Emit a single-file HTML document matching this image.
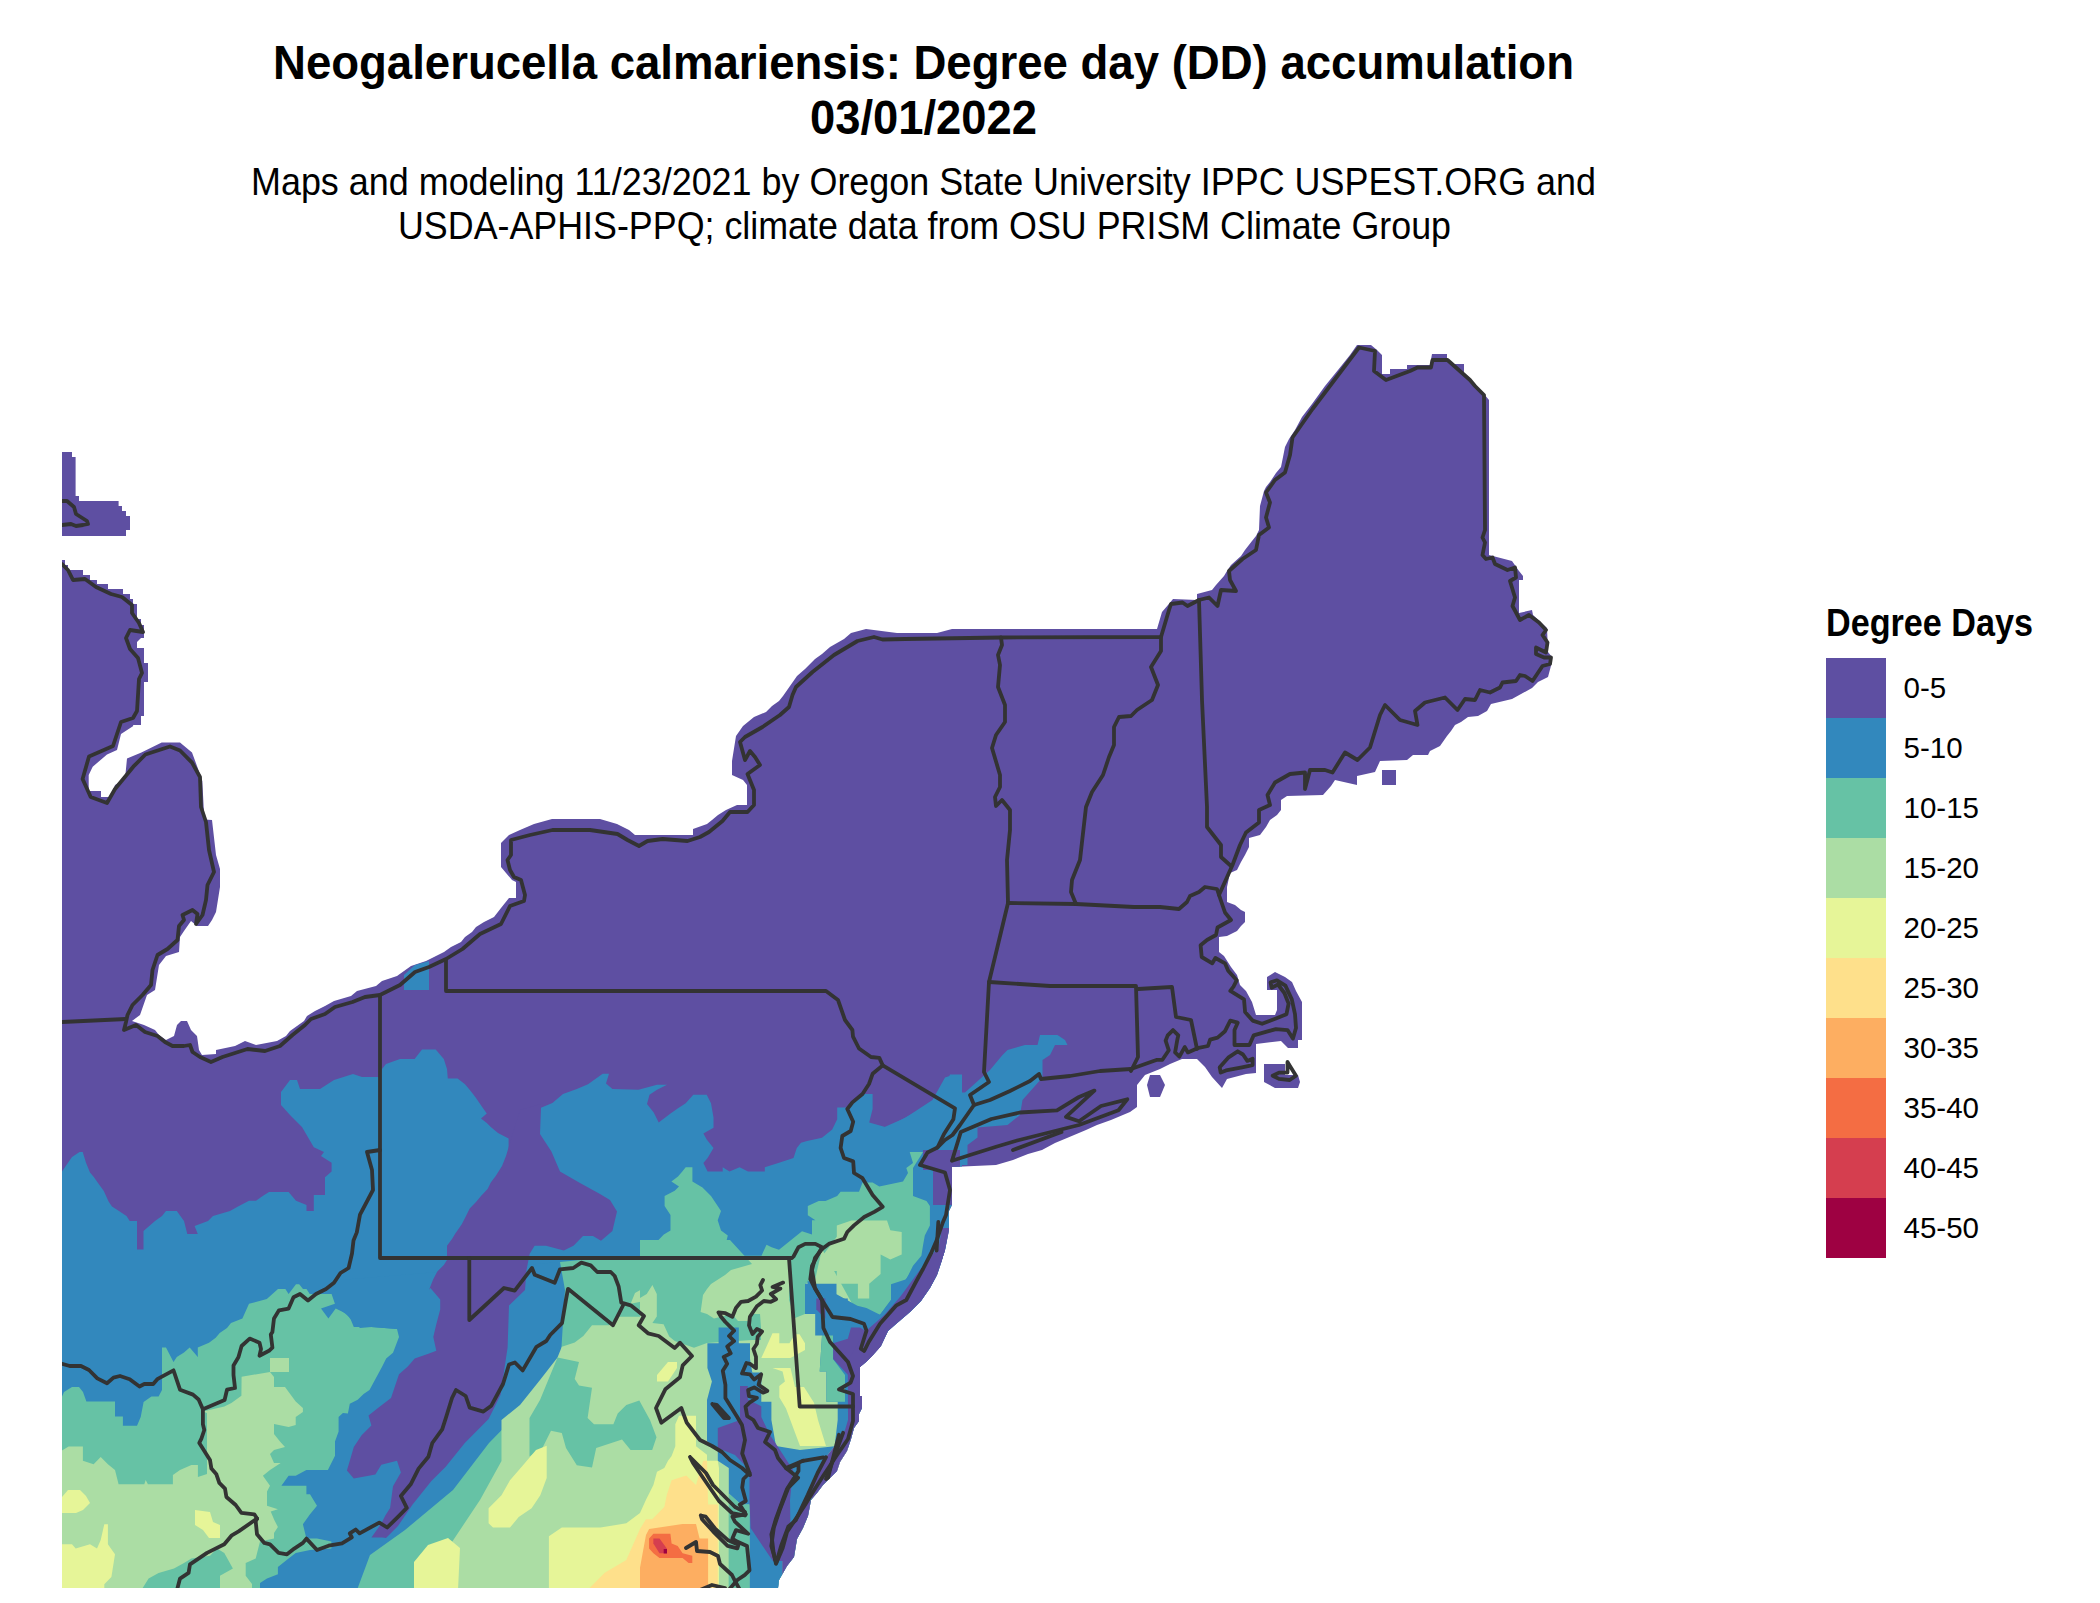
<!DOCTYPE html>
<html><head><meta charset="utf-8"><style>
html,body{margin:0;padding:0;background:#fff;width:2100px;height:1603px;overflow:hidden}
svg{display:block;font-family:"Liberation Sans",sans-serif}
</style></head><body>
<svg width="2100" height="1603" viewBox="0 0 2100 1603">
<rect width="2100" height="1603" fill="#fff"/>
<text x="273" y="79" font-size="48" font-weight="bold" textLength="1301" lengthAdjust="spacingAndGlyphs">Neogalerucella calmariensis: Degree day (DD) accumulation</text>
<text x="810" y="133.5" font-size="48" font-weight="bold" textLength="227" lengthAdjust="spacingAndGlyphs">03/01/2022</text>
<text x="251" y="195" font-size="39" textLength="1345" lengthAdjust="spacingAndGlyphs">Maps and modeling 11/23/2021 by Oregon State University IPPC USPEST.ORG and</text>
<text x="398" y="238.5" font-size="39" textLength="1053" lengthAdjust="spacingAndGlyphs">USDA-APHIS-PPQ; climate data from OSU PRISM Climate Group</text>
<text x="1826" y="636" font-size="38" font-weight="bold" textLength="207" lengthAdjust="spacingAndGlyphs">Degree Days</text>
<rect x="1826" y="658" width="60" height="60" fill="#5E4FA2"/>
<text x="1903.5" y="697.6" font-size="29.5">0-5</text>
<rect x="1826" y="718" width="60" height="60" fill="#3288BD"/>
<text x="1903.5" y="757.6" font-size="29.5">5-10</text>
<rect x="1826" y="778" width="60" height="60" fill="#66C2A5"/>
<text x="1903.5" y="817.6" font-size="29.5">10-15</text>
<rect x="1826" y="838" width="60" height="60" fill="#ABDDA4"/>
<text x="1903.5" y="877.6" font-size="29.5">15-20</text>
<rect x="1826" y="898" width="60" height="60" fill="#E6F598"/>
<text x="1903.5" y="937.6" font-size="29.5">20-25</text>
<rect x="1826" y="958" width="60" height="60" fill="#FEE08B"/>
<text x="1903.5" y="997.6" font-size="29.5">25-30</text>
<rect x="1826" y="1018" width="60" height="60" fill="#FDAE61"/>
<text x="1903.5" y="1057.6" font-size="29.5">30-35</text>
<rect x="1826" y="1078" width="60" height="60" fill="#F46D43"/>
<text x="1903.5" y="1117.6" font-size="29.5">35-40</text>
<rect x="1826" y="1138" width="60" height="60" fill="#D53E4F"/>
<text x="1903.5" y="1177.6" font-size="29.5">40-45</text>
<rect x="1826" y="1198" width="60" height="60" fill="#9E0142"/>
<text x="1903.5" y="1237.6" font-size="29.5">45-50</text>
<defs><clipPath id="pc"><rect x="62" y="0" width="2038" height="1588"/></clipPath><clipPath id="lc"><polygon points="62,452 72,452 72,457 75.6,457 75.6,496 79,496 79,501 118.6,501 118.6,506 122,506 122,511 126,511 126,516 130,516 130,530 126,530 126,536 62,536"/><polygon points="62,560 65,560 65,565 68,565 68,570 83,570 83,575 90,575 90,580 97,580 97,584 108,584 108,589 123,589 123,594 130,594 130,599 133,599 133,604 137,604 137,619 141,619 141,625 144,625 144,638 141,638 137,642 137,648 144,648 144,663 148,663 148,682 144,682 144,716 141,716 141,725 133,725 133.3,726 121,734 117,750 107,754.5 92.7,766.7 88.7,775 88.7,791 101,791 101,797 111,797 115,785 125,779 127,758.5 141.4,752.5 161.7,742.4 180,742.4 192,752.5 198,768.7 202.3,781 204.3,819.5 212,820 216,855 220,869 220,887 216,912 212,920 208,926 197,926 191,921 184,931 180,937 179,952 166,956 159,965 155,990 147,995 140,1015 132,1021 144,1025 155,1030 159,1035 166,1040 174,1036 177,1025 181,1021 187,1021 191,1030 197,1036 199,1050 202,1055 216,1054 216,1050 235,1046 245,1041 256,1045 277,1041 286,1036 290,1031 297,1026 304,1021 307,1016 315,1011 325,1006 334,1001 351,996 357,991 376,986 382,981 397,976 404,971 411,966 426,961 436,956 444,952 451,947 461,942 465,937 472,932 476,927 484,922 494,917 501,908 505,903 509,898 516,898 516,882 512,880 501,867 501,843 509,835 520,830 534,824 552,819 600,819 617,824 629,830 635,835 693,835 693,829 707,824 712,820 718,815 726,810 737,805 747,805 747,785 743,780 732,775 732,761 736,736 743,726 754,717 766,712 772,706 779,701 783,696 790,686 797,676 805,669 815,659 822,654 830,647 844,639 851,633 866,629 897,633 937,633 952,629 1157,629 1162,612 1168,605 1173,599 1197,600 1197,594 1212,590 1216,585 1224,576 1227,571 1231,565 1241,556 1245,550 1252,541 1256,536 1259,530 1260,506 1264,491 1266,487 1270,482 1276,473 1281,467 1285,447 1289,439 1295,430 1302,417 1312,404 1325,386 1338,370 1350,355 1357,345 1371,345 1377,350 1382,355 1382,374 1390,374 1390,369 1407,369 1407,365 1430,365 1432,354 1447,354 1447,359 1454,364 1464,364 1464,374 1471,380 1478,389 1484,394 1489,400 1489,555 1512,561 1519,571 1523,576 1523,580 1519,580 1519,613 1532,610 1533,615 1547,628 1548,652 1552,657 1552,662 1548,677 1538,682 1532,688 1512,699 1491,704 1487,711 1478,716 1468,717 1461,722 1455,725 1451,731 1447,736 1440,746 1430,751 1428,755 1413,755 1407,760 1380,761 1375,772 1357,776 1357,785 1335,780 1331,786 1323,795 1287,796 1281,800 1281,810 1277,815 1270,820 1266,827 1260,835 1249,838 1249,847 1245,855 1241,862 1237,870 1230,873 1227,887 1227,902 1235,905 1241,910 1245,912 1245,922 1241,926 1237,931 1227,936 1219,937 1219,952 1224,956 1231,967 1237,975 1240,985 1246,991 1252,1002 1256,1015 1275,1015 1277,1010 1277,990 1267,990 1267,977 1275,972 1285,977 1292,982 1296,991 1302,1002 1302,1040 1298,1040 1298,1048 1288,1048 1281,1041 1256,1044 1256,1073 1246,1074 1227,1079 1222,1088 1212,1077 1205,1067 1197,1059 1182,1059 1170,1064 1160,1069 1145,1075 1137,1085 1137,1107 1130,1112 1111,1120 1097,1125 1086,1130 1067,1138 1055,1143 1042,1150 1028,1154 1013,1160 996,1165 952,1167 952,1205 949,1211 949,1230 945,1250 941,1263 937,1275 930,1288 921,1301 910,1312 896,1324 888,1331 881,1346 873,1355 866,1362 860,1367 860,1396 862,1396 862,1408 859,1414 859,1421 854,1428 851,1439 847,1451 840,1462 837,1471 830,1478 823,1485 817,1493 811,1500 808,1516 803,1528 797,1539 794,1557 787,1566 783,1573 779,1580 778,1588 62,1588"/><polygon points="1264,1064 1285,1064 1285,1075 1298,1075 1300,1082 1298,1088 1275,1088 1264,1082"/><polygon points="1382,770 1396,770 1396,785 1382,785"/><polygon points="1150,1075 1160,1075 1165,1085 1160,1097 1150,1097 1147,1085"/></clipPath></defs>
<g fill="#5E4FA2"><polygon points="62,452 72,452 72,457 75.6,457 75.6,496 79,496 79,501 118.6,501 118.6,506 122,506 122,511 126,511 126,516 130,516 130,530 126,530 126,536 62,536"/><polygon points="62,560 65,560 65,565 68,565 68,570 83,570 83,575 90,575 90,580 97,580 97,584 108,584 108,589 123,589 123,594 130,594 130,599 133,599 133,604 137,604 137,619 141,619 141,625 144,625 144,638 141,638 137,642 137,648 144,648 144,663 148,663 148,682 144,682 144,716 141,716 141,725 133,725 133.3,726 121,734 117,750 107,754.5 92.7,766.7 88.7,775 88.7,791 101,791 101,797 111,797 115,785 125,779 127,758.5 141.4,752.5 161.7,742.4 180,742.4 192,752.5 198,768.7 202.3,781 204.3,819.5 212,820 216,855 220,869 220,887 216,912 212,920 208,926 197,926 191,921 184,931 180,937 179,952 166,956 159,965 155,990 147,995 140,1015 132,1021 144,1025 155,1030 159,1035 166,1040 174,1036 177,1025 181,1021 187,1021 191,1030 197,1036 199,1050 202,1055 216,1054 216,1050 235,1046 245,1041 256,1045 277,1041 286,1036 290,1031 297,1026 304,1021 307,1016 315,1011 325,1006 334,1001 351,996 357,991 376,986 382,981 397,976 404,971 411,966 426,961 436,956 444,952 451,947 461,942 465,937 472,932 476,927 484,922 494,917 501,908 505,903 509,898 516,898 516,882 512,880 501,867 501,843 509,835 520,830 534,824 552,819 600,819 617,824 629,830 635,835 693,835 693,829 707,824 712,820 718,815 726,810 737,805 747,805 747,785 743,780 732,775 732,761 736,736 743,726 754,717 766,712 772,706 779,701 783,696 790,686 797,676 805,669 815,659 822,654 830,647 844,639 851,633 866,629 897,633 937,633 952,629 1157,629 1162,612 1168,605 1173,599 1197,600 1197,594 1212,590 1216,585 1224,576 1227,571 1231,565 1241,556 1245,550 1252,541 1256,536 1259,530 1260,506 1264,491 1266,487 1270,482 1276,473 1281,467 1285,447 1289,439 1295,430 1302,417 1312,404 1325,386 1338,370 1350,355 1357,345 1371,345 1377,350 1382,355 1382,374 1390,374 1390,369 1407,369 1407,365 1430,365 1432,354 1447,354 1447,359 1454,364 1464,364 1464,374 1471,380 1478,389 1484,394 1489,400 1489,555 1512,561 1519,571 1523,576 1523,580 1519,580 1519,613 1532,610 1533,615 1547,628 1548,652 1552,657 1552,662 1548,677 1538,682 1532,688 1512,699 1491,704 1487,711 1478,716 1468,717 1461,722 1455,725 1451,731 1447,736 1440,746 1430,751 1428,755 1413,755 1407,760 1380,761 1375,772 1357,776 1357,785 1335,780 1331,786 1323,795 1287,796 1281,800 1281,810 1277,815 1270,820 1266,827 1260,835 1249,838 1249,847 1245,855 1241,862 1237,870 1230,873 1227,887 1227,902 1235,905 1241,910 1245,912 1245,922 1241,926 1237,931 1227,936 1219,937 1219,952 1224,956 1231,967 1237,975 1240,985 1246,991 1252,1002 1256,1015 1275,1015 1277,1010 1277,990 1267,990 1267,977 1275,972 1285,977 1292,982 1296,991 1302,1002 1302,1040 1298,1040 1298,1048 1288,1048 1281,1041 1256,1044 1256,1073 1246,1074 1227,1079 1222,1088 1212,1077 1205,1067 1197,1059 1182,1059 1170,1064 1160,1069 1145,1075 1137,1085 1137,1107 1130,1112 1111,1120 1097,1125 1086,1130 1067,1138 1055,1143 1042,1150 1028,1154 1013,1160 996,1165 952,1167 952,1205 949,1211 949,1230 945,1250 941,1263 937,1275 930,1288 921,1301 910,1312 896,1324 888,1331 881,1346 873,1355 866,1362 860,1367 860,1396 862,1396 862,1408 859,1414 859,1421 854,1428 851,1439 847,1451 840,1462 837,1471 830,1478 823,1485 817,1493 811,1500 808,1516 803,1528 797,1539 794,1557 787,1566 783,1573 779,1580 778,1588 62,1588"/><polygon points="1264,1064 1285,1064 1285,1075 1298,1075 1300,1082 1298,1088 1275,1088 1264,1082"/><polygon points="1382,770 1396,770 1396,785 1382,785"/><polygon points="1150,1075 1160,1075 1165,1085 1160,1097 1150,1097 1147,1085"/></g>
<g clip-path="url(#lc)">
<polygon fill="#3288BD" points="62,1171.6 68,1162.7 72,1157 79.5,1152 82.7,1152 86,1162.7 90,1172.4 94,1177.3 97.3,1182 103.8,1191 108.6,1201.6 112,1206.5 119,1211 126.5,1216 129.7,1221 137,1221 137,1249.5 143.5,1249.5 143.5,1231 155,1221 162,1216 166,1211 176.8,1211 184,1221 187.3,1234 197.8,1234 194.6,1226 208,1221 213,1216 230,1211 238,1206.5 249,1200.8 256,1200.8 262.7,1196 269,1192 288.6,1192 296,1200.8 306.5,1205 306.5,1211 313.8,1211 313.8,1195 325,1195 325,1177.3 331.6,1171.6 331.6,1162.7 321,1156 324,1152 313.8,1147.3 302,1127 290,1115 281,1105 281,1092 290,1080 297,1080 300,1089 320,1089 334,1080 353,1074 362,1077 380,1077 382,1069 386,1064 400,1059 414.6,1059 422,1049.5 435.7,1049.5 443.8,1059 447,1069 447.8,1078.6 457.6,1078.6 465,1084.3 469,1089 473,1094 476,1098 482.7,1107.8 486.8,1113.5 481,1118.4 486.8,1123 490.8,1127 498,1133 508.6,1138.6 508.6,1158 541,1107.8 552.4,1103 563,1094 576.8,1089 588,1084.3 602.7,1073.8 609,1073.8 606,1083.5 612.4,1089 638.5,1089.8 657,1084.7 667,1084.7 657,1089.8 649.5,1094.8 647,1104 653.7,1112.5 658.7,1122.6 670.5,1113.4 678,1108.3 685.7,1103.3 693.3,1094.8 706.7,1094.8 711,1103.3 713.5,1117.6 713.5,1127.7 703.4,1133.6 706.7,1139.5 713.5,1147.9 707.6,1158 703.4,1163 707.6,1171.5 722.7,1171.5 722.7,1167.3 729.5,1171.5 739.6,1167.3 748,1171.5 764.8,1171.5 764.8,1167.3 778.3,1163 793.5,1158 796.8,1147.9 801,1142.8 807,1141 822,1137.8 832.2,1129.4 837.2,1119.3 837.2,1107.5 845.7,1107.5 855.8,1099 862.5,1094 872.6,1094 872.6,1109 869.2,1122.6 887.8,1127.7 896.2,1122.6 914.7,1112.5 924.8,1107.5 934.9,1099 945,1085.6 950,1074.6 962,1074.6 962,1600 62,1600"/>
<polygon fill="#3288BD" points="880,1129 905,1118 932.5,1100 945,1077.5 952.5,1075 952.5,1092.5 965,1092.5 990,1070 1002.5,1055 1007.5,1050 1025,1045 1037.5,1045 1040,1035 1057.5,1035 1065,1040 1067.5,1045 1055,1045 1050,1055 1042.5,1060 1042.5,1077.5 1022.5,1100 1020,1115 1007.5,1125 977.5,1127.5 977.5,1137.5 967.5,1145 967.5,1165 880,1165"/>
<polygon fill="#3288BD" points="404,975 415,965 429,961 429,990 404,990"/>
<polygon fill="#66C2A5" points="62,1396.4 64,1392 72,1387 79,1387 83,1392 86.4,1401.4 115,1401.4 115,1416.4 122.9,1416.4 122.9,1425.7 137,1425.7 140.7,1417 143.6,1402 151.4,1396.4 158.6,1396.4 162,1390 162,1347.6 166,1347.6 173.5,1362 176.8,1357 184,1352.4 189.7,1347.6 197.8,1357 197.8,1347.6 209,1342.7 215.7,1337.8 219.7,1333 227,1328 231,1323 242.4,1318.4 249,1303.8 266.8,1299 278,1289 285.4,1289 288.6,1294 296,1284.3 299.2,1284.3 303,1289 306.5,1289 309.7,1294 331.6,1294 334.9,1303.8 321,1308.6 328.4,1318.4 335.7,1308.6 346,1313.5 350,1318.4 360,1328 371.4,1327 397,1329 430,1300 500,1290 530,1275 560,1262 600,1258 653.7,1255.7 658,1240.5 663.8,1234.6 670.5,1230.4 670.5,1215 664.6,1206 664.6,1195.9 674.7,1190.8 679,1186.6 671.4,1181.6 678,1176.5 682.3,1171.5 685.7,1167.3 692.4,1167.3 692.4,1181.6 702.5,1187.5 711,1195.9 717.7,1206 721,1211 717.7,1220.3 721,1230.4 727.8,1235.5 725.3,1245.6 725.3,1255.7 761.5,1255.7 766.5,1244.7 771.6,1247.2 779,1249.8 802,1231.2 812,1234.6 812,1220.3 815.4,1220.3 807.8,1215.2 807.8,1206 818.7,1201 825.5,1201 837.2,1195.9 840.6,1191.7 859,1191.7 862.5,1182.4 872.6,1182.4 879.3,1186.6 903,1181.6 908,1173 906.3,1168 913,1163 909.7,1152 923,1152 913,1168 913,1195.9 926.5,1201 929.9,1206 929.9,1225.4 924.8,1235.5 923,1245.6 921.4,1255.7 913,1265.8 906.3,1279.2 891,1284.3 891,1300 880,1314.7 866.5,1312.5 857,1330 850,1400 830,1470 810,1589 62,1589"/>
<polygon fill="#3288BD" points="340,1280 560,1262 565,1290 560,1371 536,1395 489,1443 453,1490 405,1530 370,1555 357,1590 260,1590 260,1583 267,1578.6 277.9,1574.3 277.9,1567 288.6,1558.6 295.7,1552.9 310,1550 331.4,1548.6 331.4,1541.4 317,1538.6 306.4,1538.6 302.9,1524.3 310,1514.3 317,1505.7 310,1494.3 306.4,1494.3 306.4,1485.7 281.4,1485.7 288.6,1475.7 295.7,1475.7 306.4,1470 327.9,1470 335,1455.7 335,1441.4 338.6,1431.4 338.6,1417 342.9,1412.9 347.9,1413.6 349.8,1403.8 357.7,1399.8 363.6,1394 369.5,1390 382.2,1366.4 386.2,1358.6 393,1352.7 399,1337 397,1329 371.4,1327 353.8,1327 349.8,1317.3 340,1309.5"/>
<polygon fill="#ABDDA4" points="61.7,1450.7 68.6,1446.4 82.9,1446.4 82.9,1460.7 93.6,1464.3 100.7,1457 107.9,1464.3 115,1470 118.6,1484.3 144.3,1484.3 145.7,1480 147.9,1484.3 172.9,1484.3 172.9,1475 180,1470 191.4,1465 197.9,1465 197.9,1477 207,1474 207,1412.9 202.9,1411.4 224.3,1406.4 231.4,1402.9 241.4,1395.7 241.6,1376.8 270,1372 274,1377 274,1387 285,1387 292,1396.4 295.7,1401.4 302.9,1407.9 302.9,1412 295.7,1417 295.7,1425 288.6,1427 274,1424 274,1434 280,1441.4 285,1447 274,1450 270,1454 274,1463 280.7,1463 270,1470 262.9,1475.7 270,1485.7 267,1491.4 267,1505.7 277.9,1509.3 270.7,1511.4 274.3,1520 277.9,1527 274,1533 274,1538.6 260,1541.4 255.7,1558.6 245.7,1562.9 245.7,1575.7 252,1584 252,1590 220,1590 220,1575.7 232.9,1568.6 224.3,1553 217,1548.6 210,1555.7 191.4,1558.6 184,1562.9 174,1568.6 158.6,1572.9 148.6,1578.6 141.4,1590 62,1590"/>
<polygon fill="#ABDDA4" points="270,1358 289,1358 289,1372 270,1372"/>
<polygon fill="#ABDDA4" points="630.6,1303.8 635,1293 650,1284.4 656.5,1293 652,1310 643.6,1316.7 617.7,1316.7 609,1325.3 592,1325.3 583.3,1336 574.7,1342.5 561.8,1346.8 557.5,1357.6 540,1380 520,1405 501.5,1420 501.5,1461 480,1500 440,1560 420,1590 760,1590 760,1300 700,1290"/>
<polygon fill="#ABDDA4" points="640,1257 800,1257 822,1249 860,1318 860,1470 640,1470"/>
<polygon fill="#ABDDA4" points="836.8,1225.4 851.4,1220.6 887,1220.6 890.3,1230.3 901.7,1232 901.7,1254.6 890.3,1259.5 880.6,1254.6 880.6,1274 869.2,1283.8 869.2,1298.4 857.9,1298.4 857.9,1283.8 836.8,1283.8 836.8,1270.9 817.3,1270.9 817.3,1262.7 836.8,1236.8"/>
<polygon fill="#66C2A5" points="579,1362 574.7,1379 579,1385.6 592,1387.7 587.6,1417.9 594,1424.3 613.4,1424.3 617.7,1413.6 626.3,1405 639.3,1400.6 650,1420 656.5,1437.2 652.2,1450 630.6,1450 622,1439.4 596.2,1448 592,1467.4 576.8,1465.2 566,1448 561.8,1433 551,1430.8 542.4,1448 529.5,1456.6 529.5,1417.9 540,1400 557.5,1357.6"/>
<polygon fill="#66C2A5" points="640,1240 730,1240 752,1264 731,1270 725,1275 711,1284 707,1289 703,1295 700.6,1312 707,1314 714,1318.6 732,1314 738,1321 748,1321 752,1314 760,1314 761,1327.6 761,1340 752,1340 707,1343 694,1347.8 674.8,1341 669.2,1336.6 663.6,1324.2 652.4,1323 656.8,1316.4 656.8,1294 652.4,1285 646.7,1294 640,1298"/>
<polygon fill="#66C2A5" points="789,1257 822,1249 815,1280 805,1284 805,1314 795,1318 789,1300"/>
<polygon fill="#66C2A5" points="728.8,1493.6 741,1504.6 749.5,1504.6 749.5,1590 728.8,1590"/>
<polygon fill="#E6F598" points="488.6,1523.3 488.6,1508.2 501.5,1495.3 510,1480.3 523,1465.2 536,1450 546.7,1445.8 546.7,1478 540.3,1495.3 531.6,1508.2 518.7,1517 510,1527.6 493,1527.6"/>
<polygon fill="#E6F598" points="548.9,1590 548.9,1536.2 561.8,1527.6 600.5,1527.6 626.3,1523.3 640,1513 646,1499.7 653.4,1485.1 657,1471.8 664.3,1468.1 668,1460.8 671.6,1456 675.3,1446.2 675.3,1424.3 679,1415.8 696,1415.8 696,1446.2 707,1454.7 707,1460.8 717.8,1460.8 719,1468.1 719,1590"/>
<polygon fill="#E6F598" points="62,1590 62,1544.3 72,1544.3 75.7,1548.6 90,1544.3 97,1548.6 100.7,1540 104.3,1524.3 107.9,1524.3 107.9,1544.3 115,1554.3 111.4,1577 104.3,1584.3 104.3,1590"/>
<polygon fill="#E6F598" points="657,1375 668,1362 677,1362 677,1368 668,1381.5 657,1381.5"/>
<polygon fill="#E6F598" points="761.3,1358 768,1343.3 772.5,1333.2 779.3,1333.2 779.3,1343.3 789.4,1343.3 795,1334.3 799.5,1334.3 805,1343.3 805,1350 790.5,1358 775.9,1358"/>
<polygon fill="#E6F598" points="772.5,1368 790.5,1368 795,1387.1 804,1387.1 814,1402.8 818,1420 826,1446 800,1446 786,1408.5 779.3,1397.2 779.3,1386 784.9,1381.5 782.6,1371.4"/>
<polygon fill="#E6F598" points="62,1497 68,1490 80,1490 86,1496 90,1503 83,1510 76,1513 62,1513"/>
<polygon fill="#E6F598" points="195,1510 210,1512 213,1522 220,1525 220,1538 209,1538 203,1530 195,1525"/>
<polygon fill="#E6F598" points="414,1562 428,1545 448,1538 460,1548 458,1590 414,1590"/>
<polygon fill="#FEE08B" points="587.6,1590 604.8,1572.8 626.3,1560 640,1529 646,1519.2 652.2,1519.2 664.3,1507 666.8,1494.9 671.6,1480.3 686.2,1475.4 696,1485.1 703.2,1460.8 707,1460.8 708.1,1504.6 717.8,1504.6 717.8,1590"/>
<polygon fill="#FDAE61" points="640,1590 640,1567.8 642.4,1554.5 646,1535 649.1,1528.9 682.6,1524 696,1524 699.6,1538.6 708.1,1538.6 708.1,1590"/>
<polygon fill="#F46D43" points="649.1,1538.6 653.4,1533.8 670.4,1533.8 671.6,1543.5 677.7,1546 682.6,1553.2 692.3,1555.7 692.3,1563 688.6,1563 682.6,1558.1 659.5,1558.1 653.4,1553.2 649.1,1548.4"/>
<polygon fill="#D53E4F" points="653.4,1538.6 659.5,1538.6 666.8,1548.4 666.8,1553.2 659.5,1553.2 653.4,1543.5"/>
<polygon fill="#9E0142" points="663.7,1549 667,1549 667,1553.5 663.7,1553.5"/>
<polygon fill="#3288BD" points="707.4,1343.3 718.6,1343.3 718.6,1327.6 738.8,1327.6 738.8,1343.3 750,1343.3 750,1359 752.3,1372.5 761.3,1372.5 761.3,1401.7 771.4,1401.7 771.4,1420 776,1446 800,1450 834.6,1446.2 826,1457 818.8,1470.5 811.5,1485 811.5,1499.7 803,1505.8 792,1521.6 786,1533.8 782.3,1549.6 782.3,1590 749.5,1590 749.5,1504.6 741,1504.6 728.8,1493.6 728.8,1468.1 717.8,1460.8 717.8,1448.6 707,1441.3 707,1400 711.9,1381.5 707.4,1368"/>
<polygon fill="#3288BD" points="805,1283.8 836.5,1283.8 836.5,1298.4 847.8,1298.4 847.8,1307.4 860,1318.6 870,1318 870,1450 834.6,1446.2 837.7,1420 837.7,1401.7 826.4,1401.7 826.4,1371.4 819.7,1371.4 822,1335.5 815.2,1335.5 815.2,1314.1 805,1314.1"/>
<polygon fill="#3288BD" points="807.6,1280.8 837,1294.4 857.4,1305.7 866.5,1308 880,1314.7 866.5,1330.6 843.8,1326 837,1317 819,1308 807.6,1294.4"/>
<polygon fill="#3288BD" points="906,1279 934,1240 955,1240 945,1290 910,1320 880,1340 866,1330 880,1314.7 891,1300"/>
<polygon fill="#66C2A5" points="815.2,1335.5 833,1335.5 833,1359 845,1375 845,1401.7 826.4,1401.7 826.4,1371.4 819.7,1371.4 822,1335.5"/>
<polygon fill="#66C2A5" points="728.8,1493.6 741,1504.6 749.5,1504.6 749.5,1590 728.8,1590"/>
<polygon fill="#3288BD" points="767.7,1467 780,1467 780,1479 767.7,1479"/>
<polygon fill="#5E4FA2" points="740,1386 747.8,1386 747.8,1399.5 761.3,1406.2 761.3,1417 770,1435 780,1450 793,1470 790,1500 790.5,1528 786,1561 772.8,1561 750.6,1528 749.5,1500 749.5,1470 735,1455 717.8,1448 717.8,1428 740,1420"/>
<polygon fill="#5E4FA2" points="851,1327.6 860,1327.6 880,1340 880,1590 782.3,1590 782.3,1549.6 786,1533.8 792,1521.6 803,1505.8 811.5,1499.7 811.5,1485 818.8,1470.5 826,1457 834.6,1446.2 845,1430 848,1420 847.8,1374.8 833.2,1359 833.2,1343.3 847.8,1338.8"/>
<polygon fill="#5E4FA2" points="816.3,1298.4 825.3,1298.4 825.3,1318.6 816.3,1309.6"/>
<polygon fill="#5E4FA2" points="923,1150 960,1150 960,1205 933,1205 933,1170 923,1170"/>
<polygon fill="#5E4FA2" points="942,1228 960,1228 960,1262 936,1262"/>
<polygon fill="#5E4FA2" points="936,1250 960,1250 960,1300 900,1340 866,1370 848,1367 849.5,1357.8 857.4,1344 866.5,1330.6 884.6,1314.7 900.4,1296.6 918.6,1271.7"/>
<polygon fill="#5E4FA2" points="506,1156 520,1110 541,1104 541,1107.8 540,1134 551.4,1151.4 560,1171.4 580,1183 600,1194 610,1200 617,1211.4 612.4,1231 601,1240.8 593,1236 583,1236 573.5,1245.7 563.8,1250.5 546,1245.7 534.6,1245.7 529.7,1253.8 526.5,1270 525,1290 509,1305.5 507.6,1347.6 500.5,1395 488.6,1419 464.8,1443 445.7,1466.7 431.4,1481 412.4,1504.8 398,1526 386,1538 382.2,1537.4 371.4,1537.4 381.3,1523.6 385.2,1515.8 390.1,1507.9 393,1486.3 400.9,1472.5 397,1460.7 381.3,1464.7 375.4,1474.5 353.8,1478.4 346.9,1470.6 349.8,1460.7 353.8,1447 361.6,1435.2 371.4,1425.4 368.5,1415.6 378.3,1407.7 391,1398 399,1374.3 407.8,1366.4 414.7,1358.6 428.4,1353.7 436.3,1350.7 433.3,1337 436.3,1324.2 440.2,1309.5 440.2,1299.6 430.4,1287.9 429,1290 433,1279.7 437.3,1271.6 443.8,1265 447,1260 447,1245.7 452,1239 455,1234 461.6,1224.6 465,1218 469.7,1208.4 476,1202 481,1196 487.6,1189 490.8,1182.4 495.7,1176 502,1166"/>
</g>
<g clip-path="url(#pc)" fill="none" stroke="#333333" stroke-width="3.8" stroke-linejoin="round" stroke-linecap="round">
<polyline points="62,501 67,501 74,507 76,514 87,521 88,524 83,525 76,526 71,524 62,525"/>
<polyline points="62,564 68,570 73,580 85,579 96,587 111,594 122,597 132,605 132,613 139,623 143,632 130,630 126,638 130,649 138,658 142,673 139,679 137,711 133,718 121,722 113,746 89,756.5 82.6,779 90.7,797 107,803 115,789 133.3,766.7 145.4,754.5 170,746.5 180,750.5 192,762.6 200,777 201,807 206,822 209,850 214,872 207.5,885 206,900 202.5,915 196,924 197.5,914 192.5,910 182.5,915 184,920 179,926 177.5,940 167.5,949 157.5,955 152.5,970 151,985 142.5,995 132.5,1005 127.5,1015 126,1022 124,1030 136,1025 145,1032 157.5,1036 165,1042 172.5,1046 184,1046 190,1045 192.5,1052 200,1057 211,1062 222.5,1057 247.5,1049 265,1051 280,1046 292.5,1035 305,1025 311,1019 325,1014 335,1007 352.5,1002 365,997 380,995 400,985 415,972 429,967 446,959 462.5,949 480,934 501,924 510,906 524,901 525,895 521,880 514,877 510,870 507.5,860 511,855 511,840 530,835 552.5,830 590,830 617.5,834 627.5,840 639,846 647.5,841 662.5,839 687.5,841 700,837 709,832 722.5,821 730,812 747.5,812 754,805 754,790 747.5,774 760,765 755,757 750,751 745,760 740,742 745,737 762.5,727 780,715 789,707 792.5,695 796,687 812.5,672 834,655 857.5,641 874,637 882.5,639.5 905,639 1001,637.5 1161,637 1169,610 1171,604 1182.5,602.5 1187.5,606 1199,600 1209,597.5 1217.5,606 1221,590 1236,591 1230,580 1229,571 1242.5,559 1256,550 1259,535 1269,527.5 1266,517.5 1270,502.5 1266,492.5 1275,480 1285,472.5 1290,455 1292.5,437.5 1312.5,409 1359,347.5 1375,351 1374,371 1386,380 1410,371 1417.5,367.5 1431,367.5 1432.5,360 1447.5,360 1470,380 1475,386 1484,395 1485,530 1482.5,537.5 1485,542.5 1482.5,555 1486,559 1492.5,557.5 1495,564 1507.5,570 1515,567.5 1516,577.5 1510,581 1515,597.5 1512.5,606 1520,620 1529,615 1539,622.5 1546,630 1542.5,635 1547.5,642.5 1546,652.5 1536,647.5 1536,654 1544,657.5 1551,657.5 1550,664 1542.5,666 1532.5,681 1525,676 1520,675 1516,681 1502.5,682.5 1500,687.5 1490,692.5 1480,690 1475,700 1465,699 1457.5,710 1445,697.5 1425,702.5 1415,711 1417.5,725 1400,720 1385,705 1380,715 1370,747.5 1357.5,760 1345,752.5 1332.5,772.5 1325,770 1310,770 1305,789 1305,772.5 1290,774 1275,782.5 1267.5,795 1270,805 1259,810 1259,822.5 1246,832.5 1240,845 1232.5,865 1219,895 1225,912.5 1231,920 1217.5,927.5 1216,935 1207,940 1200.6,945.3 1201.7,957 1212.3,963.3 1215.4,958 1225,963.3 1228.2,970.8 1236.7,980.3 1233.5,986.7 1230.3,990.9 1238.8,996.2 1244,999.4 1245.1,1012.1 1252.6,1020.6 1262.1,1023.8 1275.9,1018.5 1286.5,1014.2 1288.6,1003.6 1284.4,993 1278,984.5 1271.6,987.7 1270.6,982.4 1277,980.3 1285.4,985.6 1291.8,999.4 1295,1014.2 1296,1028 1292.9,1038.6 1287.5,1030.1 1275.9,1029.1 1268.5,1031.2 1253.6,1035.4 1249.4,1045 1234.5,1045 1234.5,1030.1 1237.7,1022.7 1230.3,1020.6 1225,1031.2 1217.6,1037.6 1210.1,1039.7 1208,1046 1197.4,1048.2 1187.9,1052.4 1184.7,1047.1 1179.4,1056.7 1175.1,1052.4 1177.3,1039.7 1178.3,1035.4 1173,1030.1 1167.7,1035.4 1165.6,1040.7 1168.8,1050.3 1162.4,1059.8 1157.1,1059.8 1131,1069 1100,1071 1070,1076 1041,1079 1039,1074 1030,1081 1010,1091 990,1100 974,1105 960,1125 952.5,1135 945,1140 937.5,1147.5 927.5,1152.5 920,1165 945,1172.5 950,1190 946,1215 943,1222 936.6,1240.5 931.5,1252.3 923,1269 916.4,1281 906.3,1300 896,1305.7 880,1323.8 868.7,1342 864.2,1351 860.8,1348.7 866.5,1330.6 864,1323.8 850.6,1319 832.5,1317 822,1300 815,1288 812,1270 815,1258 822,1249"/>
<polyline points="938.3,1222 936.6,1250.6"/>
<polyline points="446,960 446,991 826,991 838,1000 845,1020 852.4,1030 853,1036.7 859,1048.5 871,1057 879.3,1057.8 882.7,1065.4 872.6,1073.8 869,1084 862.5,1094 852.4,1102.4 847.3,1109 853.2,1121.8 850.7,1131 842.3,1136 840.6,1147.9 844,1158 853.2,1161.4 854,1173 862.5,1178.2 872.6,1195 882.7,1206.8 874.3,1211.9 864.2,1217 854,1225.4 847.3,1232 844,1238.8 828.8,1243.9 822,1249"/>
<polyline points="882.7,1065.4 955,1108.3 953.4,1119.3 944,1134 937.5,1147.5"/>
<polyline points="380,995 380,1258 469.3,1258 792,1258 793.5,1256.5 798.5,1247.2 805.2,1243.9 815.4,1243.9 822,1247.2 812,1265.8 810.3,1279.2 815.4,1289.3 822,1300 823.4,1328 830,1342 848,1362 853,1376 850.6,1382.7 839,1389.5 853,1394 853,1421 848,1439 837,1455 823.4,1475.5 812,1493.6 805,1505 796,1518.6 787,1532 782.7,1548 776,1563.8 773.6,1552.5 771.4,1534.4 776,1518.6 782.7,1500.4 787,1489 798.5,1471 798.5,1464 787,1468.7"/>
<polyline points="789,1258 799.7,1406.5 853,1406.5"/>
<polyline points="803,1460.8 823.4,1457.4"/>
<polyline points="839,1434.8 828,1477.8"/>
<polyline points="62,1022 126,1019"/>
<polyline points="380,1150 367,1152 372,1170 373,1190 360,1214.6 356.8,1232.4 353.5,1240.5 352,1253.5 348.6,1268 340.5,1273 334,1282.7 326,1289 316,1294 308,1300.5 300,1294 293.5,1297.3 288.6,1308.6 279,1310.3 274,1318.4 272.4,1332 270.8,1334.6 272.4,1347.6 269,1350.8 259.5,1355.7 261,1349 259.5,1342.7 249.7,1338.6 241.6,1346 238.4,1357.3 233.5,1365.4 233.5,1375 235,1388 227,1389.7 224.6,1400 202.9,1409.3"/>
<polyline points="62,1363.8 69.7,1366 81,1366 89,1370 97.3,1378.4 107,1383.2 113.5,1377.6 120,1376 129.7,1379.2 139.5,1386.5 144.3,1384 153.2,1384 157.3,1379.2 173.5,1370.3 180,1389.7 193,1394.6 198.6,1399.5 202.9,1409.3 202.9,1424.3 204.3,1430 201.4,1438.6 199.3,1442.9 210,1460 211.4,1468.6 216.4,1474.3 219.3,1482.9 225,1488.6 226.4,1497 235.7,1505 241.4,1512.9 254.3,1514.3 257,1518.6"/>
<polyline points="257,1518.6 238.6,1531.4 231.4,1535.7 224.3,1544.3 207,1552.9 190,1564.3 188.6,1572.9 180,1578.6 177,1590"/>
<polyline points="257,1518.6 255.7,1521.4 257,1534.3 264.3,1542.9 270,1544.3 278.6,1552.9 287,1554.3 294.3,1548.6 302.9,1542.9 306.4,1538.6 317,1550 328.6,1545.7 342,1543.3 351.8,1537.4 349.8,1533.4 355.7,1529.5 359.6,1533.4 379.3,1522.6 387.2,1527.5 399,1515.8 406.8,1507.9 400.9,1496 410.7,1484.3 418.6,1468.6 428.4,1456.8 432.3,1443 442.2,1429.3 446,1417.5 452,1398 456,1390 465.7,1396 469.7,1407.7 483.4,1411.6 491.3,1405.7 503,1384 509,1364.5 514.9,1362.5 522.7,1370.4 536.5,1346.8 546.3,1341 550.2,1335 562,1323.2 566,1299.6 568,1288.8 613,1325.2 623,1305.5"/>
<polyline points="469.3,1258 469.3,1320 486.7,1304 504,1288 514.7,1290.7 532,1268 534.7,1274.7 554.7,1282.7 560,1269.3 573.3,1268 581.3,1262.7 590.7,1265.3 597.3,1272 610.7,1272 614.7,1276 618.7,1286.7 621.3,1302.7 630.7,1305.3 644,1316 638.7,1325.3 648,1333.3 658.7,1336 674.7,1348 680,1342.7 692,1356 682.7,1365.3 680,1377.3 665.3,1389.3 656,1408 661.3,1422.7 681.3,1408 686.7,1422.7 700,1440 712,1446 722,1452 730,1460 742,1468 750,1475"/>
<polyline points="1001,637.5 1002,645 998,655 1000,665 998,687 1005,705 1005,722 996,735 992,748 1000,775 1000,787 995,797 996,806 1002,800 1010,810 1010,830 1007,860 1008,903"/>
<polyline points="1008,903 989,982 984,1072 989,1082 970,1095 974,1105"/>
<polyline points="1008,903 1076,904 1134,907 1160,907 1179,909 1187,902 1190,896 1199,892 1205,887 1217,889 1219,895"/>
<polyline points="1161,637 1161,651 1151,667 1158,685 1152,700 1137,710 1131,716 1119,717 1114,727 1114,745 1109,757 1103,775 1092,792 1086,807 1082,842 1080,860 1072,880 1071,892 1076,904"/>
<polyline points="1199,600 1202,700 1207,807 1207,827 1221,845 1221,857 1231,866"/>
<polyline points="989,982 1050,986 1136,986 1138,1057 1131,1071"/>
<polyline points="1138,989 1172,987 1176,1017 1191,1020 1197,1049"/>
<polyline points="952,1160.7 960.8,1132 991.4,1119 1020,1112.5 1057,1110.3 1079,1097 1094.4,1090.6 1066,1116.9 1079,1121.2 1101,1106 1127.3,1099.3 1118.5,1110.3 1079,1125 1059,1130 1017.2,1140.5 996.2,1146.8 970,1155 952,1160.7"/>
<polyline points="1013,1150 1061.5,1132"/>
<polyline points="763,1280 760.3,1285.2 762.1,1290.5 756,1296.6 748.1,1301 741.1,1301.8 735.9,1308 732.4,1316.7 725.4,1313.2 718.4,1312.3 721,1316.7 725.4,1322 734.1,1330.7 729,1336 734.1,1341.1 727.2,1346.4 730.7,1353.4 723.7,1356.9 727.2,1363.8 722.8,1370.8 725.4,1384.8 725.4,1397.9 730.7,1406.6 736.8,1416.2 742,1425 745,1440 742.2,1453.5 749.5,1473"/>
<polyline points="783.1,1282.6 772.6,1287 780.4,1288.7 770.8,1294 776.1,1299.2 770.8,1301.8 763.8,1301 756.9,1306.2 749.9,1316.7 749,1325.4 752.5,1334.1 756.9,1328.9 762.1,1331.5 757.7,1336.8 756.9,1343.8 753.4,1349 756,1356.9 756,1368.2 749.9,1363.8 746.4,1363 742,1373.4 749.9,1374.3 754.2,1379.6 761.2,1374.3 758.6,1384.8 767.3,1390.9 763,1392.7 754.2,1387.4 748.1,1390 749,1396.2 756.9,1397.9 749.9,1402.3 745.5,1406.6 747.2,1416.2 753.4,1420 758,1428 770,1432 765,1442 775,1450 778,1458 786,1468.1"/>
<polyline points="712.3,1404 716.7,1404.9 728.9,1418 724,1418 712.3,1404"/>
<polyline points="749.5,1473 743.4,1479 742.2,1487.6 745.8,1501 739.7,1504.6 745.8,1514.3 732.4,1516.7 734.9,1521.6 748.2,1533.8 736,1530.1 732.4,1538.6 736,1541.1 747,1546 749.5,1570.3 744.6,1575.1 737.3,1580 728.8,1590"/>
<polyline points="690,1457 706,1473 713,1485 725,1497 735,1507 745,1512 745,1515.5 732,1513 719,1501 708,1485 693,1463 690,1457"/>
<polyline points="700.8,1515.5 705.7,1516.7 715.4,1528.9 727.6,1539.9 738.5,1544.7 737.3,1548.4 727.6,1545.9 713,1531.3 702,1519.2 700.8,1515.5"/>
<polyline points="686,1548 696,1542 697,1551 710,1552 718,1556 720,1564 732,1575 735,1581 740,1590"/>
<polyline points="700,1590 712,1585 725,1588"/>
<polyline points="803,1460.8 786,1468.1 798.1,1477.8 788.4,1487.6 779.9,1509.5 773.8,1527.7 771.3,1545.9 776.2,1563 781.1,1545.9 788.4,1526.5 795.7,1520.4 807.8,1494.9 817.6,1473 826,1457.2"/>
<polyline points="826,1479 843.1,1432.8"/>
<polyline points="1219.7,1067.3 1228.2,1057.7 1237.7,1051.3 1243,1054.5 1247.3,1060.9 1252.6,1058.8 1252.6,1065.1 1242,1067.3 1226,1070.4 1220.7,1072.6 1219.7,1067.3"/>
<polyline points="1272.7,1075.7 1279,1072.6 1287.5,1072.6 1287.5,1062 1290.7,1067.3 1296,1075.7 1289.7,1080 1279,1078.9 1272.7,1075.7"/>
</g>
</svg>
</body></html>
